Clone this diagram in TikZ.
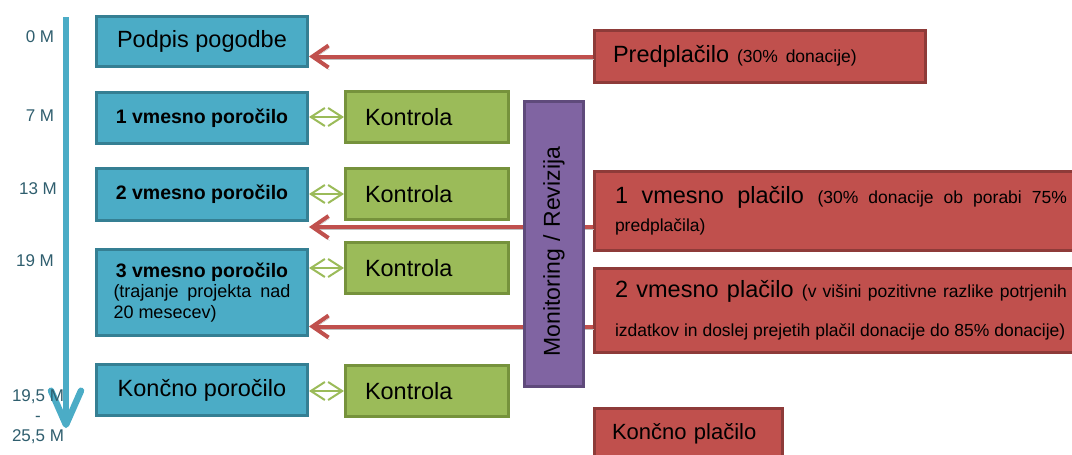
\documentclass[tikz,border=0pt]{standalone}
\usepackage{fontspec}
\setmainfont{Liberation Sans}
\usetikzlibrary{arrows.meta}
\definecolor{repblue}{HTML}{4BACC6}
\definecolor{repline}{HTML}{357F93}
\definecolor{ctrlgreen}{HTML}{9BBB59}
\definecolor{ctrlline}{HTML}{76923C}
\definecolor{payred}{HTML}{C0504D}
\definecolor{payline}{HTML}{8E3B39}
\definecolor{monpurple}{HTML}{8064A2}
\definecolor{monline}{HTML}{5F4A7B}
\definecolor{monthtext}{HTML}{2F5E6E}
\hyphenpenalty=10000
\exhyphenpenalty=10000
\newcommand{\paysmall}{\fontsize{17.5}{21}\selectfont}
\begin{document}
\begin{tikzpicture}[x=1pt,y=-1pt]
 \tikzset{rep/.style={draw=repline, fill=repblue, line width=3pt, minimum width=211pt, inner sep=0pt, align=center, font=\fontsize{23.5}{28}\selectfont},
  repbold/.style={rep, font=\fontsize{19.5}{23}\bfseries},
  ctrl/.style={draw=ctrlline, fill=ctrlgreen, line width=3pt, minimum height=51pt, inner xsep=19.5pt, inner ysep=0pt, text width=124pt, align=left, font=\fontsize{23.5}{28}\selectfont},
  pay/.style={draw=payline, fill=payred, line width=3pt, inner ysep=0pt, align=left, font=\fontsize{23.5}{28}\selectfont},
  month/.style={text=monthtext, inner sep=0pt, align=center, font=\fontsize{17}{20}\selectfont},
  timeline/.style={-{Straight Barb[length=34pt,width=30pt,round]}, draw=repblue, line width=6.5pt},
  linked/.style={{Straight Barb[length=14pt,width=18pt]}-{Straight Barb[length=14pt,width=18pt]}, draw=ctrlgreen, line width=2pt},
  paid/.style={-{Straight Barb[length=16pt,width=22pt]}, draw=payred, line width=4pt, preaction={draw=gray!50, transform canvas={shift={(1pt,-2.5pt)}}}}}
  \useasboundingbox (0,0) rectangle (1072,455);
  \clip (0,0) rectangle (1072,455);
  % time axis
  \coordinate (T1) at (66,17);
  \coordinate (T2) at (66,428);
  \draw[timeline] (T1) -- (T2);
  \node[month] (L1) at (40,36.5) {0 M};
  \node[month] (L2) at (40,116) {7 M};
  \node[month] (L3) at (38,189) {13 M};
  \node[month] (L4) at (35,261) {19 M};
  \node[month] (L5) at (38,417) {19,5 M\\-\\25,5 M};
  % reports
  \node[rep, minimum height=50pt] (R0) at (202,41.5) {Podpis pogodbe};
  \node[repbold, minimum height=51pt] (R1) at (202,118) {1 vmesno poročilo};
  \node[repbold, minimum height=52pt] (R2) at (202,194.5) {2 vmesno poročilo};
  \node[rep, minimum height=86pt, text width=177pt, align=justify] (R3) at (202,292.5) {{\centering\fontsize{19.5}{20.5}\bfseries 3 vmesno poročilo\par}\fontsize{18}{20.5}\selectfont (trajanje projekta nad 20 mesecev)\par};
  \node[rep, minimum height=51pt] (R4) at (202,390) {Končno poročilo};
  % controls
  \node[ctrl] (K1) at (427,117) {Kontrola};
  \node[ctrl] (K2) at (427,194) {Kontrola};
  \node[ctrl] (K3) at (427,268) {Kontrola};
  \node[ctrl] (K4) at (427,391) {Kontrola};
  \draw[linked] (K1.west -| R1.east) -- (K1.west);
  \draw[linked] (K2.west -| R2.east) -- (K2.west);
  \draw[linked] (K3.west -| R3.east) -- (K3.west);
  \draw[linked] (K4.west -| R4.east) -- (K4.west);
  % payments
  \node[pay, minimum height=52pt, inner xsep=18.5pt, text width=294pt] (P0) at (760,56.5) {Predplačilo {\paysmall (30\% donacije)}};
  \node[pay, minimum height=79pt, inner xsep=20.5pt, text width=452pt, align=justify] (P1) at (841,211) {1 vmesno plačilo {\paysmall (30\% donacije ob porabi 75\% predplačila)}};
  \node[pay, minimum height=84pt, inner xsep=20.5pt, text width=452pt, align=justify, font=\fontsize{23.5}{39}\selectfont] (P2) at (841,310.5) {2 vmesno plačilo {\paysmall (v višini pozitivne razlike potrjenih izdatkov in doslej prejetih plačil donacije do 85\% donacije)}};
  \node[pay, minimum height=52pt, inner xsep=17.5pt, text width=153pt, font=\fontsize{22}{26}\selectfont] (P3) at (688.5,434) {Končno plačilo};
  \draw[paid] (P0.west) -- (R0.east |- P0.west);
  \draw[paid] ([yshift=-16pt]P1.west) coordinate (A1) -- (R2.east |- A1);
  \draw[paid] ([yshift=-16pt]P2.west) coordinate (A2) -- (R3.east |- A2);
  % monitoring
  \node[draw=monline, fill=monpurple, line width=3pt, rotate=90, minimum width=285pt, minimum height=59pt, inner xsep=30pt, inner ysep=0pt, text width=225pt, align=left, font=\fontsize{23}{28}\selectfont] (M1) at (554,244) {Monitoring / Revizija};
\end{tikzpicture}
\end{document}
